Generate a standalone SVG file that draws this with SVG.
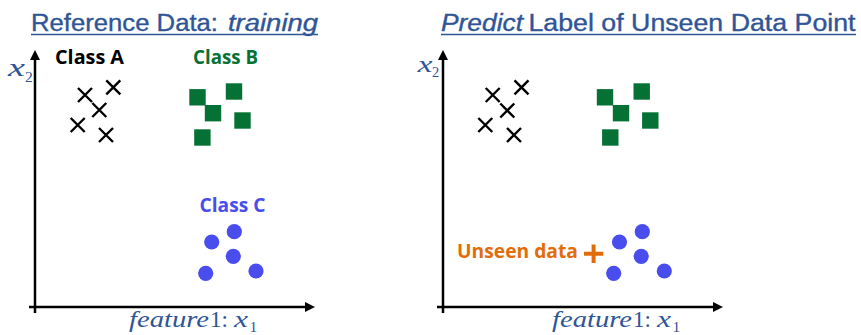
<svg xmlns="http://www.w3.org/2000/svg" xmlns:xlink="http://www.w3.org/1999/xlink" width="861" height="335" viewBox="0 0 861 335">
  <style>
    .title { font-family: "Liberation Sans", Arial, sans-serif; font-size: 23px; fill: #2F5597; stroke: #2F5597; stroke-width: 0.35; }
    .ital { font-style: italic; }
    .uline { stroke: #2F5597; stroke-width: 1.6; }
    .axis { stroke: #000; stroke-width: 2.5; fill: none; }
    .math { font-family: "Liberation Serif", "Times New Roman", serif; fill: #2F5597; }
    .label { font-family: "Open Sans", Lato, "Liberation Sans", sans-serif; font-weight: 700; font-size: 19.5px; }
    .cross { stroke: #000; stroke-width: 2.4; fill: none; }
    .sq { fill: #067134; }
    .dot { fill: #4A4DEE; }
  </style>
  <defs>
    <marker id="arrow" viewBox="0 0 10 10" refX="2" refY="5" markerWidth="10" markerHeight="10" markerUnits="userSpaceOnUse" orient="auto">
      <path d="M0,0 L10,5 L0,10 z" fill="#000"/>
    </marker>
    <path id="x-mark" class="cross" d="M-7,-7 L7,7 M-7,7 L7,-7"/>
    <rect id="sq-mark" class="sq" x="-8.2" y="-8.2" width="16.4" height="16.4"/>
    <circle id="dot-mark" class="dot" r="7.6"/>
  </defs>

  <!-- Left panel: training data -->
  <g id="title-left">
    <text class="title" x="31" y="31" textLength="187" lengthAdjust="spacingAndGlyphs">Reference Data:</text>
    <text class="title ital" x="228" y="31" textLength="90" lengthAdjust="spacingAndGlyphs">training</text>
    <line class="uline" x1="31" y1="34.5" x2="318" y2="34.5"/>
  </g>

  <g id="axes-left">
    <line class="axis" x1="35" y1="313" x2="35" y2="58" marker-end="url(#arrow)"/>
    <line class="axis" x1="29" y1="307" x2="307" y2="307" marker-end="url(#arrow)"/>
    <text class="math ital" x="8" y="76" font-size="25" textLength="17" lengthAdjust="spacingAndGlyphs">x</text>
    <text class="math" x="25" y="82" font-size="15.5">2</text>
    <text class="math ital" x="129" y="327" font-size="23" textLength="80" lengthAdjust="spacingAndGlyphs">feature</text>
    <text class="math" x="210" y="327" font-size="23" textLength="18" lengthAdjust="spacingAndGlyphs">1:</text>
    <text class="math ital" x="234" y="327" font-size="23" textLength="14" lengthAdjust="spacingAndGlyphs">x</text>
    <text class="math" x="249.5" y="331.5" font-size="15.5">1</text>
  </g>

  <g id="class-a-left">
    <text class="label" x="55" y="63.5" fill="#000" textLength="69" lengthAdjust="spacingAndGlyphs">Class A</text>
    <use xlink:href="#x-mark" x="85" y="95"/>
    <use xlink:href="#x-mark" x="113.3" y="87.3"/>
    <use xlink:href="#x-mark" x="99.3" y="110"/>
    <use xlink:href="#x-mark" x="77.7" y="125"/>
    <use xlink:href="#x-mark" x="106" y="135"/>
  </g>

  <g id="class-b-left">
    <text class="label" x="193" y="63.5" fill="#067134" textLength="65" lengthAdjust="spacingAndGlyphs">Class B</text>
    <use xlink:href="#sq-mark" x="197.5" y="97.3"/>
    <use xlink:href="#sq-mark" x="234" y="91.5"/>
    <use xlink:href="#sq-mark" x="213" y="113.2"/>
    <use xlink:href="#sq-mark" x="242.5" y="120.5"/>
    <use xlink:href="#sq-mark" x="202.4" y="137.5"/>
  </g>

  <g id="class-c-left">
    <text class="label" x="199.5" y="212" fill="#4A4DEE" textLength="66" lengthAdjust="spacingAndGlyphs">Class C</text>
    <use xlink:href="#dot-mark" x="211.7" y="242"/>
    <use xlink:href="#dot-mark" x="234.3" y="231.7"/>
    <use xlink:href="#dot-mark" x="233.3" y="256.3"/>
    <use xlink:href="#dot-mark" x="205.7" y="273.3"/>
    <use xlink:href="#dot-mark" x="256" y="271"/>
  </g>

  <!-- Right panel: predicting an unseen point -->
  <g id="title-right">
    <text class="title ital" x="441" y="31" textLength="82" lengthAdjust="spacingAndGlyphs">Predict</text>
    <text class="title" x="528.5" y="31" textLength="327" lengthAdjust="spacingAndGlyphs">Label of Unseen Data Point</text>
    <line class="uline" x1="441" y1="34.5" x2="856" y2="34.5"/>
  </g>

  <g id="axes-right">
    <line class="axis" x1="443" y1="313" x2="443" y2="58" marker-end="url(#arrow)"/>
    <line class="axis" x1="437" y1="307" x2="715" y2="307" marker-end="url(#arrow)"/>
    <text class="math ital" x="417.5" y="72" font-size="23" textLength="15" lengthAdjust="spacingAndGlyphs">x</text>
    <text class="math" x="432" y="77" font-size="14.5">2</text>
    <text class="math ital" x="552" y="327" font-size="23" textLength="80" lengthAdjust="spacingAndGlyphs">feature</text>
    <text class="math" x="633" y="327" font-size="23" textLength="18" lengthAdjust="spacingAndGlyphs">1:</text>
    <text class="math ital" x="657" y="327" font-size="23" textLength="14" lengthAdjust="spacingAndGlyphs">x</text>
    <text class="math" x="672.5" y="331.5" font-size="15.5">1</text>
  </g>

  <g id="class-a-right">
    <use xlink:href="#x-mark" x="492.7" y="95"/>
    <use xlink:href="#x-mark" x="521.5" y="87.3"/>
    <use xlink:href="#x-mark" x="507.3" y="110.5"/>
    <use xlink:href="#x-mark" x="485.3" y="125"/>
    <use xlink:href="#x-mark" x="514" y="135"/>
  </g>

  <g id="class-b-right">
    <use xlink:href="#sq-mark" x="605" y="97.3"/>
    <use xlink:href="#sq-mark" x="641.7" y="91.5"/>
    <use xlink:href="#sq-mark" x="621" y="113.2"/>
    <use xlink:href="#sq-mark" x="650.3" y="120.5"/>
    <use xlink:href="#sq-mark" x="610.3" y="137.5"/>
  </g>

  <g id="class-c-right">
    <use xlink:href="#dot-mark" x="619.5" y="242"/>
    <use xlink:href="#dot-mark" x="642.3" y="231.7"/>
    <use xlink:href="#dot-mark" x="641.2" y="256.3"/>
    <use xlink:href="#dot-mark" x="613.7" y="273.3"/>
    <use xlink:href="#dot-mark" x="664.3" y="271"/>
  </g>

  <g id="unseen-point">
    <text class="label" x="457" y="257.5" fill="#E36C0A" font-size="21.5" textLength="121" lengthAdjust="spacingAndGlyphs">Unseen data</text>
    <path d="M584,253.8 L603.3,253.8 M593.6,244.5 L593.6,263" stroke="#E36C0A" stroke-width="4" fill="none"/>
  </g>
</svg>
